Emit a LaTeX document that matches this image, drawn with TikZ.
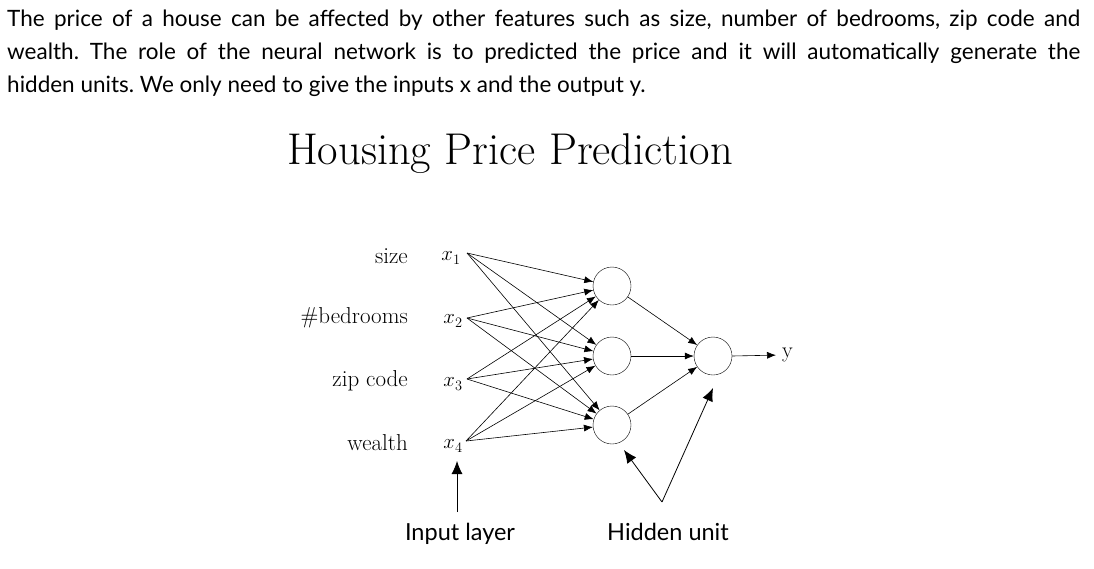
\documentclass[tikz,border=0pt]{standalone}
\usepackage{fontspec}
\newfontfamily\bodyfont{Lato}
\usetikzlibrary{arrows.meta}
\frenchspacing
\begin{document}
\begin{tikzpicture}[x=1pt,y=-1pt,
  para/.style={anchor=base west,inner sep=0,font=\bodyfont\fontsize{22.5}{26}\selectfont},
  feat/.style={anchor=east,inner sep=0,font=\fontsize{23}{26}\selectfont},
  xin/.style={anchor=center,inner sep=0,font=\fontsize{22}{26}\selectfont},
  neuron/.style={circle,draw,minimum size=38pt,inner sep=0},
  edge/.style={-{Latex[length=9pt,width=7pt]},line width=0.6pt},
  bigarrow/.style={-{Latex[length=13pt,width=11pt]},line width=0.8pt},
  note/.style={anchor=base,inner sep=0,font=\bodyfont\fontsize{23.5}{26}\selectfont}]
\useasboundingbox (0,0) rectangle (1094,568);
% paragraph
\node[para] (p1) at (7,26) {\makebox[1073pt][s]{The price of a house can be affected by other features such as size, number of bedrooms, zip code and}};
\node[para] (p2) at (7,59) {\makebox[1073pt][s]{wealth. The role of the neural network is to predicted the price and it will automatically generate the}};
\node[para] (p3) at (7,92) {hidden units. We only need to give the inputs x and the output y.};
% title
\node[anchor=base,inner sep=0,font=\fontsize{44.5}{48}\selectfont] (title) at (510,164) {Housing Price Prediction};
% features
\node[feat] (f1) at (408,256) {size};
\node[feat] (f2) at (408,318) {\#bedrooms};
\node[feat] (f3) at (408,381) {zip code};
\node[feat] (f4) at (408,443) {wealth};
\node[xin] (x1) at (451,258) {$x_1$};
\node[xin] (x2) at (453,321) {$x_2$};
\node[xin] (x3) at (453,384) {$x_3$};
\node[xin] (x4) at (453,446) {$x_4$};
\coordinate (s1) at (467,253);
\coordinate (s2) at (467,318);
\coordinate (s3) at (467,379);
\coordinate (s4) at (466,441);
% hidden
\node[neuron] (h1) at (612,286) {};
\node[neuron] (h2) at (612,356) {};
\node[neuron] (h3) at (612,425) {};
\node[neuron] (o) at (713,356) {};
\foreach \i in {1,2,3,4}{
  \foreach \j in {1,2,3}{
    \draw[edge] (s\i) -- (h\j);
  }
}
\foreach \j in {1,2,3}{\draw[edge] (h\j) -- (o);}
\node[anchor=west,inner sep=0,font=\fontsize{22}{26}\selectfont] (y) at (782,355) {y};
\draw[edge,shorten >=6pt] (o.east) -- (y.west);
% annotations
\node[note] (il) at (460,540) {Input layer};
\node[note] (hu) at (668,540) {Hidden unit};
\coordinate (iltail) at (457,512);
\coordinate (iltip) at (457,461);
\draw[bigarrow] (iltail) -- (iltip);
\coordinate (v) at (662,502);
\coordinate (tipA) at (624,450);
\coordinate (tipB) at (713,388);
\draw[bigarrow] (v) -- (tipA);
\draw[bigarrow] (v) -- (tipB);
\end{tikzpicture}
\end{document}
